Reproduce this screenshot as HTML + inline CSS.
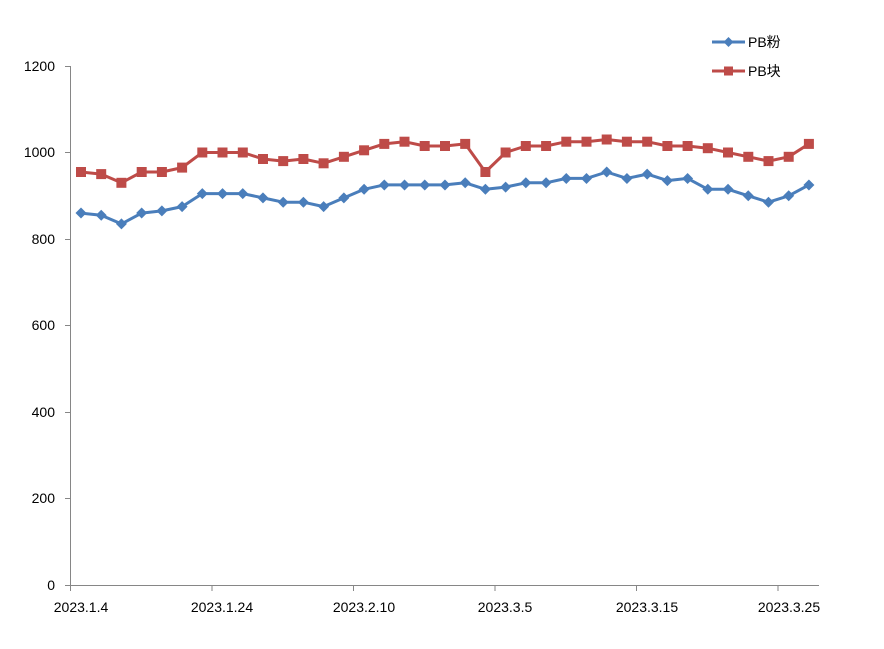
<!DOCTYPE html>
<html><head><meta charset="utf-8"><style>
html,body{margin:0;padding:0;background:#fff;}
svg{display:block;font-family:"Liberation Sans","Noto Sans CJK SC",sans-serif;}
</style></head><body>
<svg id="c" width="884" height="649" xmlns="http://www.w3.org/2000/svg">
<rect width="884" height="649" fill="#fff"/>
<g stroke="#868686" stroke-width="1" fill="none">
<line x1="70.5" y1="66" x2="70.5" y2="586"/>
<line x1="70" y1="585.5" x2="819" y2="585.5"/>
<line x1="65" y1="66.5" x2="70" y2="66.5"/>
<line x1="65" y1="152.5" x2="70" y2="152.5"/>
<line x1="65" y1="239.5" x2="70" y2="239.5"/>
<line x1="65" y1="325.5" x2="70" y2="325.5"/>
<line x1="65" y1="412.5" x2="70" y2="412.5"/>
<line x1="65" y1="498.5" x2="70" y2="498.5"/>
<line x1="65" y1="585.5" x2="70" y2="585.5"/>
<line x1="70.5" y1="585" x2="70.5" y2="591"/>
<line x1="212" y1="585" x2="212" y2="591"/>
<line x1="353.5" y1="585" x2="353.5" y2="591"/>
<line x1="495" y1="585" x2="495" y2="591"/>
<line x1="636.5" y1="585" x2="636.5" y2="591"/>
<line x1="778" y1="585" x2="778" y2="591"/>
</g>
<g font-size="14" fill="#000" text-anchor="end">
<text x="55" y="71">1200</text>
<text x="55" y="157">1000</text>
<text x="55" y="244">800</text>
<text x="55" y="330">600</text>
<text x="55" y="417">400</text>
<text x="55" y="503">200</text>
<text x="55" y="590">0</text>
</g>
<g font-size="14" fill="#000" text-anchor="middle">
<text x="81" y="612">2023.1.4</text>
<text x="222" y="612">2023.1.24</text>
<text x="364" y="612">2023.2.10</text>
<text x="505" y="612">2023.3.5</text>
<text x="647" y="612">2023.3.15</text>
<text x="789" y="612">2023.3.25</text>
</g>
<g id="ser"></g>
<line x1="712" y1="42" x2="745" y2="42" stroke="#4a7ebb" stroke-width="3"/>
<polygon points="728.5,37 733.5,42 728.5,47 723.5,42" fill="#4a7ebb"/>
<text x="748" y="47" font-size="14">PB粉</text>
<line x1="712" y1="71" x2="745" y2="71" stroke="#be4b48" stroke-width="3"/>
<rect x="724" y="66.5" width="9" height="9" fill="#be4b48"/>
<text x="748" y="76" font-size="14">PB块</text>
</svg>
<script>
var b=[860,855,835,860,865,875,905,905,905,895,885,885,875,895,915,925,925,925,925,930,915,920,930,930,940,940,955,940,950,935,940,915,915,900,885,900,925];
var r=[955,950,930,955,955,965,1000,1000,1000,985,980,985,975,990,1005,1020,1025,1015,1015,1020,955,1000,1015,1015,1025,1025,1030,1025,1025,1015,1015,1010,1000,990,980,990,1020];
function X(i){return 81+i*20.22;}function Y(v){return 585-v*0.4325;}
var s='';
function line(a,c){var p=a.map(function(v,i){return X(i).toFixed(1)+','+Y(v).toFixed(1)}).join(' ');return '<polyline points="'+p+'" fill="none" stroke="'+c+'" stroke-width="3" stroke-linejoin="round"/>';}
s+=line(r,'#be4b48');
r.forEach(function(v,i){s+='<rect x="'+(X(i)-5).toFixed(1)+'" y="'+(Y(v)-5).toFixed(1)+'" width="10" height="10" fill="#be4b48"/>';});
s+=line(b,'#4a7ebb');
b.forEach(function(v,i){var x=X(i),y=Y(v);s+='<polygon points="'+x+','+(y-5.5)+' '+(x+5.5)+','+y+' '+x+','+(y+5.5)+' '+(x-5.5)+','+y+'" fill="#4a7ebb"/>';});
document.getElementById('ser').innerHTML=s;
</script>
</body></html>
